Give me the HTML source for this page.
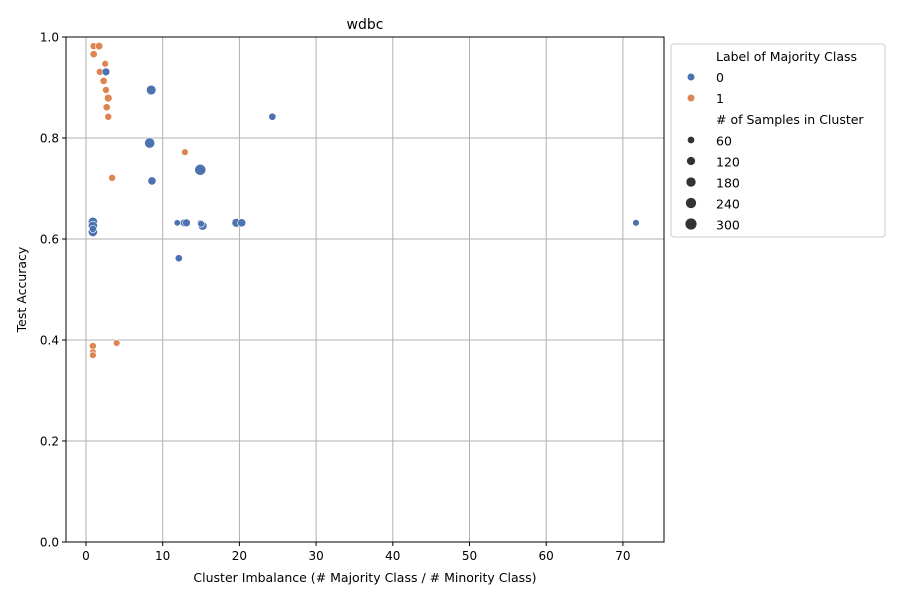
<!DOCTYPE html>
<html><head><meta charset="utf-8"><style>
body{margin:0;background:#fff;font-family:"Liberation Sans","DejaVu Sans",sans-serif;}
svg text{font-family:"DejaVu Sans","Liberation Sans",sans-serif;}
</style></head><body>
<svg id="chart" width="900" height="600" xmlns="http://www.w3.org/2000/svg">
<rect width="900" height="600" fill="#fff"/>
<g id="grid"></g>
<g id="marks"></g>
<rect x="66" y="37" width="598" height="505" fill="none" stroke="#000" stroke-width="1"/>
<g id="ticks"></g>
<text x="365" y="29" font-size="14" text-anchor="middle">wdbc</text>
<text x="365" y="582" font-size="12.5" text-anchor="middle">Cluster Imbalance (# Majority Class / # Minority Class)</text>
<text transform="translate(26,289.5) rotate(-90)" font-size="12.5" text-anchor="middle">Test Accuracy</text>
<g id="legend">
<rect x="671" y="44" width="214" height="193" rx="3" fill="#fff" stroke="#ccc"/>
<text x="716" y="61" font-size="12.5">Label of Majority Class</text>
<circle cx="691" cy="77" r="3.5" fill="#4c72b0"/><text x="716" y="82" font-size="12.5">0</text>
<circle cx="691" cy="98" r="3.5" fill="#dd8452"/><text x="716" y="103" font-size="12.5">1</text>
<text x="716" y="124" font-size="12.5"># of Samples in Cluster</text>
<g id="sizeleg"></g>
</g>
</svg>
<script>
const classes = [1,1,1,1,1,1,1,1,1,1,1,1,1,1,1,1, 0,0,0,0,0,0,0,0,0,0,0,0,0,0,0,0,0,0,0,0];
const xValues = [1.0,1.7,1.0,2.5,1.8,2.3,2.6,2.9,2.7,2.9,3.4,12.9,4.0,0.9,0.9,0.9, 2.6,8.5,8.3,8.6,0.9,0.9,0.9,11.9,12.8,13.1,14.9,15.2,14.9,19.6,20.3,12.1,24.3,71.7,0.9,15.0];
const yValues = [0.982,0.982,0.966,0.947,0.931,0.913,0.895,0.879,0.861,0.842,0.721,0.772,0.394,0.388,0.376,0.370, 0.931,0.895,0.790,0.715,0.634,0.626,0.614,0.632,0.632,0.632,0.632,0.626,0.737,0.632,0.632,0.562,0.842,0.632,0.620,0.630];
const sampleSizes = [70,90,80,60,70,80,70,100,80,70,70,60,60,70,60,60, 100,200,240,120,180,180,180,50,100,100,50,150,300,150,120,80,80,60,80,60];
const xTicks = [0,10,20,30,40,50,60,70];
const yTicks = [0,0.2,0.4,0.6,0.8,1.0];
const legendSizes = [60,120,180,240,300];
const colors = ['#4c72b0','#dd8452'];
const X = v => 86 + v*7.67;
const Y = v => 542 - v*505;
const R = n => 1.6 + Math.sqrt(n)*0.23;
const NS='http://www.w3.org/2000/svg';
function mk(tag, attrs, parent){const e=document.createElementNS(NS,tag);for(const k in attrs)e.setAttribute(k,attrs[k]);parent.appendChild(e);return e;}
const grid=document.getElementById('grid'), ticks=document.getElementById('ticks'), marks=document.getElementById('marks');
xTicks.forEach(t=>{
  const l=mk('line',{x1:X(t),x2:X(t),y1:37,y2:542,stroke:'#b0b0b0','stroke-width':1},grid);
  
  
  mk('line',{x1:X(t),x2:X(t),y1:542,y2:546,stroke:'#000'},ticks);
  const tx=mk('text',{x:X(t),y:560,'font-size':12,'text-anchor':'middle'},ticks);tx.textContent=t;
  
  
});
yTicks.forEach(t=>{
  const l=mk('line',{x1:66,x2:664,y1:Y(t),y2:Y(t),stroke:'#b0b0b0','stroke-width':1},grid);
  
  
  mk('line',{x1:62,x2:66,y1:Y(t),y2:Y(t),stroke:'#000'},ticks);
  const tx=mk('text',{x:59,y:Y(t)+4.5,'font-size':12,'text-anchor':'end'},ticks);tx.textContent=t.toFixed(1);
  
  
});
xValues.forEach((v,i)=>{
  const c=mk('circle',{cx:X(v),cy:Y(yValues[i]),r:R(sampleSizes[i]),fill:colors[classes[i]],stroke:'#fff','stroke-width':0.6},marks);
  
  
});
const sl=document.getElementById('sizeleg');
legendSizes.forEach((n,i)=>{
  const y=140+i*21;
  const c=mk('circle',{cx:691,cy:y,r:R(n),fill:'#333'},sl);
  
  
  const t=mk('text',{x:716,y:y+5.5,'font-size':12.5},sl);t.textContent=n;
  
  
});
</script>
</body></html>
